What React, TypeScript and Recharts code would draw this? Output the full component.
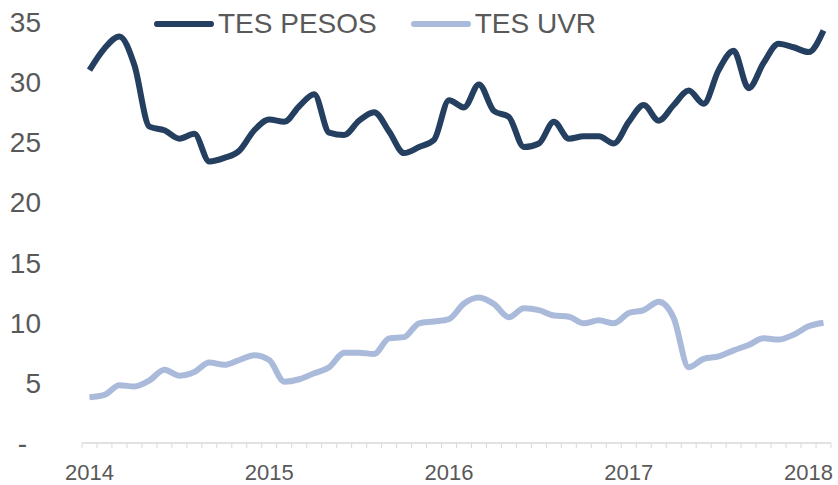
import React from 'react';
import { LineChart, Line, XAxis, YAxis } from 'recharts';

// monthly, Jan 2014 .. Feb 2018
const tesPesos = [
  31.0, 32.8, 33.8, 31.4, 26.3, 26.0, 25.3, 25.7, 23.4, 23.7,
  24.3, 26.0, 26.9, 26.7, 28.0, 29.0, 25.8, 25.6, 26.8, 27.5,
  25.9, 24.1, 24.6, 25.2, 28.5, 27.9, 29.8, 27.6, 27.1, 24.6,
  24.9, 26.7, 25.3, 25.5, 25.5, 24.9, 26.7, 28.1, 26.8, 28.1,
  29.3, 28.2, 31.0, 32.6, 29.5, 31.6, 33.2, 32.9, 32.5, 34.3,
];
const tesUvr = [
  3.8, 4.0, 4.8, 4.7, 5.2, 6.1, 5.6, 5.9, 6.7, 6.5,
  6.9, 7.3, 6.9, 5.1, 5.3, 5.8, 6.3, 7.5, 7.5, 7.4,
  8.7, 8.8, 9.95, 10.1, 10.3, 11.6, 12.1, 11.55, 10.45, 11.2,
  11.05, 10.6, 10.5, 9.95, 10.2, 9.95, 10.8, 11.05, 11.75, 10.4,
  6.3, 7.0, 7.2, 7.7, 8.15, 8.7, 8.6, 9.0, 9.7, 10.0,
];
const yearLabels = ['2014', '2015', '2016', '2017', '2018'];
const yearIndex = [0, 12, 24, 36, 48];
const yTicks = [0, 5, 10, 15, 20, 25, 30, 35];

const data = tesPesos.map((v, i) => ({ idx: i, pesos: v, uvr: tesUvr[i] }));
const boundaryTicks = [...tesPesos.map((_, i) => i - 0.5), tesPesos.length - 0.5];

const DARK = '#243f60';
const LIGHT = '#aabadb';
const TEXT = '#595959';
const font = 'Liberation Sans, Arial, sans-serif';

const LegendItem = ({ color, label, gap }: { color: string; label: string; gap: number }) => (
  <div style={{ display: 'flex', alignItems: 'center', marginRight: gap }}>
    <svg width={60} height={10} style={{ marginRight: 4 }}>
      <line x1={3} y1={5} x2={57} y2={5} stroke={color} strokeWidth={6} strokeLinecap="round" />
    </svg>
    <span style={{ fontSize: 28, color: TEXT, fontFamily: font, lineHeight: '28px' }}>{label}</span>
  </div>
);

export default function App() {
  return (
    <div style={{ position: 'absolute', left: 0, top: 0, width: 838, height: 485, background: '#fff' }}>
      <LineChart width={838} height={485} data={data} margin={{ top: 22, right: 7, left: 0, bottom: 0 }}>
        <XAxis
          xAxisId="ticks"
          dataKey="idx"
          type="number"
          domain={[-0.5, tesPesos.length - 0.5]}
          ticks={boundaryTicks}
          interval={0}
          height={6}
          tickSize={5}
          tickFormatter={() => ''}
          stroke="#d9d9d9"
          axisLine={{ stroke: '#d9d9d9', strokeWidth: 1.5 }}
          tickLine={{ stroke: '#d9d9d9' }}
        />
        <XAxis
          xAxisId="years"
          dataKey="idx"
          type="number"
          domain={[-0.5, tesPesos.length - 0.5]}
          ticks={yearIndex}
          interval={0}
          height={36}
          tickSize={0}
          tickMargin={15}
          axisLine={false}
          tickLine={false}
          tickFormatter={(v: number) => yearLabels[yearIndex.indexOf(v)] ?? ''}
          tick={{ fill: TEXT, fontSize: 22, fontFamily: font }}
        />
        <YAxis
          domain={[0, 35]}
          ticks={yTicks}
          interval={0}
          width={82}
          tickSize={0}
          tickMargin={41}
          axisLine={false}
          tickLine={false}
          tickFormatter={(v: number) => (v === 0 ? '-\u2002' : String(v))}
          tick={{ fill: TEXT, fontSize: 28, fontFamily: font }}
        />
        <Line
          xAxisId="years"
          dataKey="uvr"
          type="monotone"
          stroke={LIGHT}
          strokeWidth={6}
          dot={false}
          isAnimationActive={false}
        />
        <Line
          xAxisId="years"
          dataKey="pesos"
          type="monotone"
          stroke={DARK}
          strokeWidth={6}
          dot={false}
          isAnimationActive={false}
        />
      </LineChart>
      <div style={{ position: 'absolute', left: 154, top: 10, display: 'flex' }}>
        <LegendItem color={DARK} label="TES PESOS" gap={34} />
        <LegendItem color={LIGHT} label="TES UVR" gap={0} />
      </div>
    </div>
  );
}
